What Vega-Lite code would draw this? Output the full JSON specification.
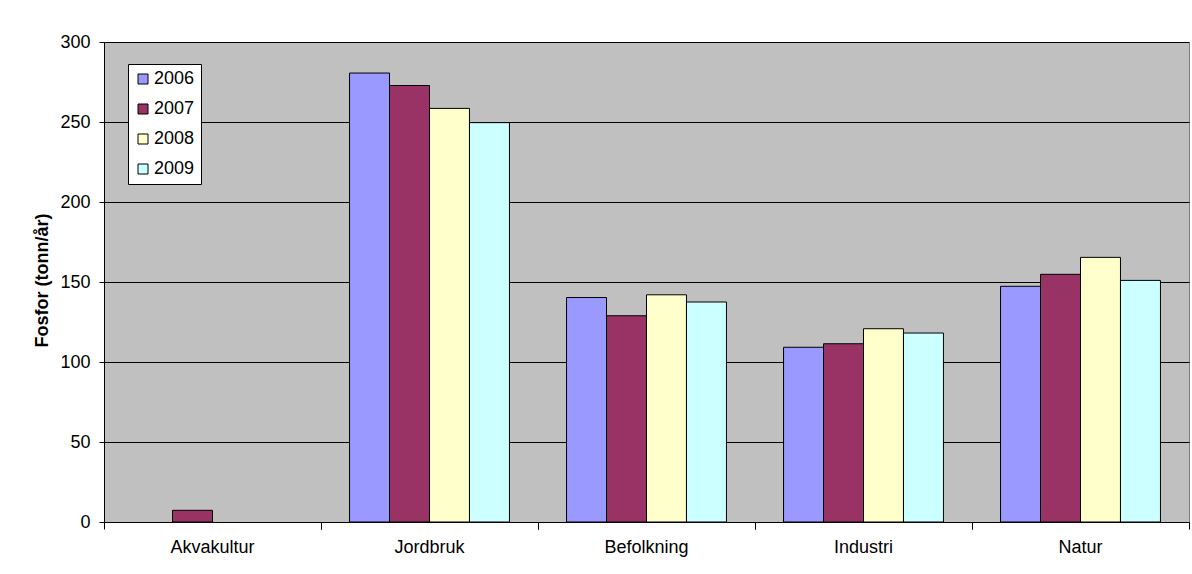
{
  "$schema": "https://vega.github.io/schema/vega-lite/v6.json",
  "width": 1085,
  "height": 480,
  "autosize": {"type": "none"},
  "padding": {"left": 104, "top": 42, "right": 3, "bottom": 52},
  "background": "white",
  "config": {
    "font": "Liberation Sans",
    "view": {"fill": "#C0C0C0", "stroke": "#808080", "strokeWidth": 1}
  },
  "data": {
    "values": [
      {"category": "Akvakultur", "year": "2007", "value": 7.3},
      {"category": "Jordbruk", "year": "2006", "value": 280.6},
      {"category": "Jordbruk", "year": "2007", "value": 272.8},
      {"category": "Jordbruk", "year": "2008", "value": 258.5},
      {"category": "Jordbruk", "year": "2009", "value": 249.6},
      {"category": "Befolkning", "year": "2006", "value": 140.3},
      {"category": "Befolkning", "year": "2007", "value": 128.9},
      {"category": "Befolkning", "year": "2008", "value": 142},
      {"category": "Befolkning", "year": "2009", "value": 137.5},
      {"category": "Industri", "year": "2006", "value": 109.2},
      {"category": "Industri", "year": "2007", "value": 111.4},
      {"category": "Industri", "year": "2008", "value": 120.8},
      {"category": "Industri", "year": "2009", "value": 118.1},
      {"category": "Natur", "year": "2006", "value": 147.3},
      {"category": "Natur", "year": "2007", "value": 154.8},
      {"category": "Natur", "year": "2008", "value": 165.4},
      {"category": "Natur", "year": "2009", "value": 151}
    ]
  },
  "layer": [
    {
      "mark": {"type": "bar", "stroke": "black", "strokeWidth": 1},
      "encoding": {
        "x": {
          "field": "category",
          "type": "nominal",
          "sort": ["Akvakultur", "Jordbruk", "Befolkning", "Industri", "Natur"],
          "scale": {"paddingInner": 0.263, "paddingOuter": 0.1315},
          "axis": {
            "orient": "bottom",
            "title": null,
            "labelAngle": 0,
            "labelFontSize": 18,
            "labelColor": "black",
            "labelPadding": 16,
            "labelBaseline": "top",
            "ticks": false,
            "tickSize": 0,
            "domain": true,
            "domainColor": "black",
            "domainWidth": 1,
            "grid": false
          }
        },
        "xOffset": {
          "field": "year",
          "type": "nominal",
          "sort": ["2006", "2007", "2008", "2009"],
          "scale": {"domain": ["2006", "2007", "2008", "2009"], "paddingInner": 0, "paddingOuter": 0}
        },
        "y": {
          "field": "value",
          "type": "quantitative",
          "scale": {"domain": [0, 300], "nice": false},
          "axis": {
            "values": [0, 50, 100, 150, 200, 250, 300],
            "title": "Fosfor (tonn/år)",
            "titleFontSize": 18,
            "titleFontWeight": "bold",
            "titleColor": "black",
            "titleAngle": -90,
            "titleAlign": "center",
            "titleBaseline": "middle",
            "titleX": -62,
            "titleY": 238,
            "labelFontSize": 18,
            "labelColor": "black",
            "labelPadding": 9,
            "tickSize": 5,
            "tickColor": "black",
            "domainColor": "black",
            "grid": true,
            "gridColor": "black",
            "gridWidth": 1,
            "gridOpacity": 1
          }
        },
        "color": {
          "field": "year",
          "type": "nominal",
          "scale": {
            "domain": ["2006", "2007", "2008", "2009"],
            "range": ["#9999FF", "#993366", "#FFFFCC", "#CCFFFF"]
          },
          "legend": {
            "title": null,
            "orient": "none",
            "legendX": 24,
            "legendY": 22,
            "fillColor": "white",
            "strokeColor": "black",
            "padding": 6,
            "symbolType": "square",
            "symbolSize": 100,
            "symbolStrokeColor": "black",
            "symbolStrokeWidth": 1,
            "symbolOpacity": 1,
            "labelFontSize": 18,
            "labelColor": "black",
            "labelOffset": 2,
            "rowPadding": 12
          }
        }
      }
    },
    {
      "mark": {"type": "point", "opacity": 0},
      "encoding": {
        "x": {
          "field": "category",
          "type": "nominal",
          "sort": ["Akvakultur", "Jordbruk", "Befolkning", "Industri", "Natur"],
          "scale": {"type": "band", "paddingInner": 0, "paddingOuter": 0},
          "axis": {
            "orient": "bottom",
            "title": null,
            "labels": false,
            "domain": false,
            "grid": false,
            "ticks": true,
            "tickSize": 7,
            "tickColor": "black",
            "bandPosition": 0
          }
        }
      }
    },
    {
      "mark": {"type": "point", "opacity": 0},
      "encoding": {
        "x": {
          "field": "category",
          "type": "nominal",
          "sort": ["Akvakultur", "Jordbruk", "Befolkning", "Industri", "Natur"],
          "scale": {"type": "band", "paddingInner": 0, "paddingOuter": 0},
          "axis": {
            "orient": "bottom",
            "title": null,
            "labels": false,
            "domain": false,
            "grid": false,
            "ticks": true,
            "tickSize": 7,
            "tickColor": "black",
            "bandPosition": 1
          }
        }
      }
    }
  ],
  "resolve": {"scale": {"x": "independent"}, "axis": {"x": "independent"}}
}
